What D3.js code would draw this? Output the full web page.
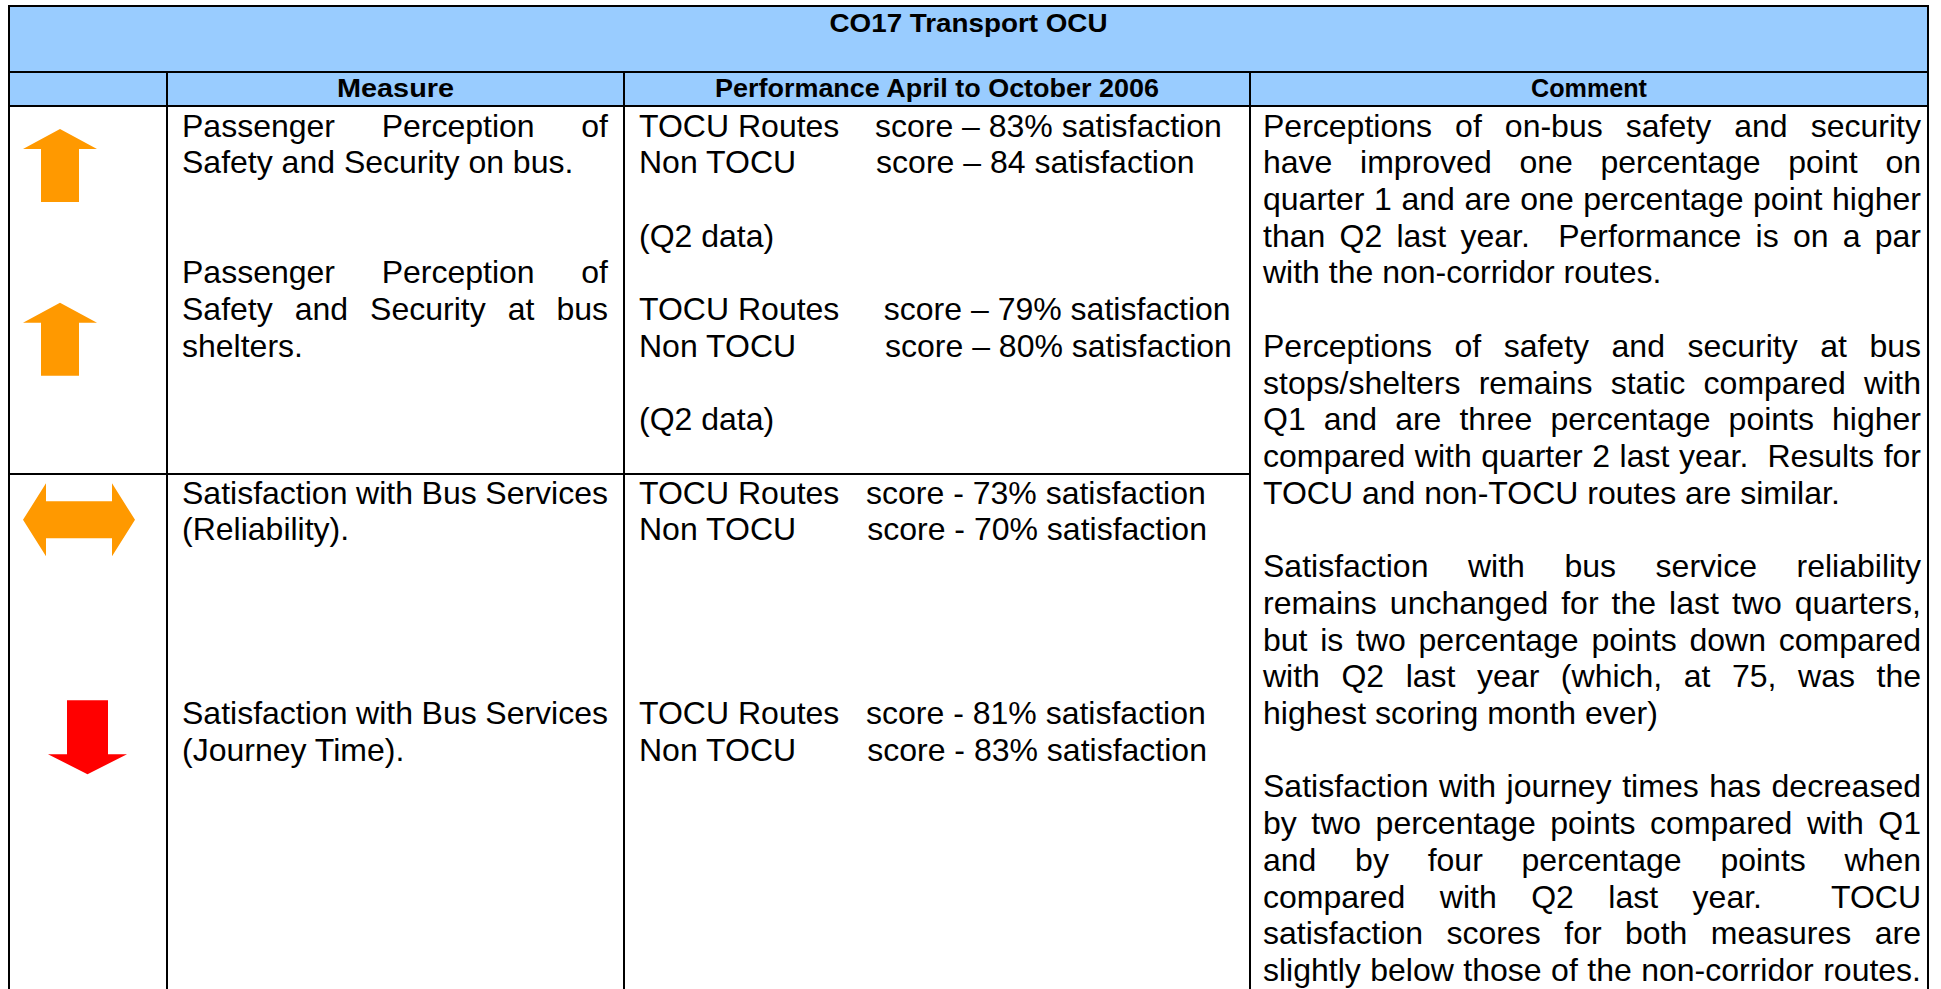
<!DOCTYPE html>
<html>
<head>
<meta charset="utf-8">
<script src="https://cdn.jsdelivr.net/npm/d3@7"></script>
<style>
  html, body { margin: 0; padding: 0; background: #fff; overflow: hidden; }
  svg { display: block; font-family: "Liberation Sans", Arial, sans-serif; }
  text { white-space: pre; }
</style>
</head>
<body>
<script>
// table content
var title = "CO17 Transport OCU";
var headers = ["", "Measure", "Performance April to October 2006", "Comment"];
var trends = ["up", "up", "same", "down"];
var measures = [
    ["Passenger Perception of", "Safety and Security on bus."],
    ["Passenger Perception of", "Safety and Security at bus", "shelters."],
    ["Satisfaction with Bus Services", "(Reliability)."],
    ["Satisfaction with Bus Services", "(Journey Time)."]
];
var routes = ["TOCU Routes", "Non TOCU"];
var tocuScores = ["83%", "79%", "73%", "81%"];
var nonTocuScores = ["84", "80%", "70%", "83%"];
var dashes = ["\u2013", "\u2013", "-", "-"];
var notes = ["(Q2 data)", "(Q2 data)", "", ""];
var comments = [
    ["Perceptions of on-bus safety and security",
     "have improved one percentage point on",
     "quarter 1 and are one percentage point higher",
     "than Q2 last year.  Performance is on a par",
     "with the non-corridor routes."],
    ["Perceptions of safety and security at bus",
     "stops/shelters remains static compared with",
     "Q1 and are three percentage points higher",
     "compared with quarter 2 last year.  Results for",
     "TOCU and non-TOCU routes are similar."],
    ["Satisfaction with bus service reliability",
     "remains unchanged for the last two quarters,",
     "but is two percentage points down compared",
     "with Q2 last year (which, at 75, was the",
     "highest scoring month ever)"],
    ["Satisfaction with journey times has decreased",
     "by two percentage points compared with Q1",
     "and by four percentage points when",
     "compared with Q2 last year.  TOCU",
     "satisfaction scores for both measures are",
     "slightly below those of the non-corridor routes."]
];

// layout
var W = 1941, H = 989;
var xLeft = 9, xRight = 1928, yTop = 6, titleBottom = 72, headBottom = 106, rowSplit = 474;
var cols = [xLeft, 167, 624, 1250, xRight];
var measureStart = [0, 4, 10, 16];
var perfStart = [0, 5, 10, 16];
var commentStart = [0, 6, 12, 18];
var gapSpaces = [[4, 9], [5, 10], [3, 8], [3, 8]];
var arrowLine = [0.79, 5.52, 10.44, 16.36];
var arrowX = [60, 60, 79, 87.5];
var blue = "#99CCFF", orange = "#FF9900", red = "#FF0000";
var bodySize = 32;

var svg = d3.select("body").append("svg")
    .attr("width", W)
    .attr("height", H);

// line number -> baseline
var y = d3.scaleLinear().domain([0, 1]).range([136.5, 136.5 + 36.72]);

// header backgrounds
svg.append("rect")
    .attr("x", xLeft).attr("y", yTop)
    .attr("width", xRight - xLeft).attr("height", headBottom - yTop)
    .attr("fill", blue);

// title and column headings
svg.append("text")
    .attr("x", (xLeft + xRight) / 2)
    .attr("y", 32)
    .attr("text-anchor", "middle")
    .attr("font-weight", "bold")
    .attr("font-size", 26)
    .attr("textLength", 278)
    .attr("lengthAdjust", "spacingAndGlyphs")
    .text(title);

var headLen = [0, 117, 444, 116];
svg.selectAll(".head")
    .data(headers)
    .enter()
    .filter(function(d) { return d !== ""; })
    .append("text")
    .attr("class", "head")
    .attr("x", function(d) { var i = headers.indexOf(d); return (cols[i] + cols[i + 1]) / 2; })
    .attr("y", 97)
    .attr("text-anchor", "middle")
    .attr("font-weight", "bold")
    .attr("font-size", function(d) { return d === "Comment" ? 25 : 26; })
    .attr("textLength", function(d) { return headLen[headers.indexOf(d)]; })
    .attr("lengthAdjust", "spacingAndGlyphs")
    .text(function(d) { return d; });

// hidden text for measuring words
var ruler = svg.append("text")
    .attr("font-size", bodySize)
    .attr("x", -1000).attr("y", -1000);

function wordWidth(w) {
    if (!w) return 0;
    ruler.text(w);
    return ruler.node().getComputedTextLength();
}

// draws one line, justified between x0 and x1 when asked
// (a line that nearly fills the cell is justified too, like the last one of the page)
function drawLine(str, line, x0, x1, justify, auto) {
    var t = svg.append("text")
        .attr("y", y(line))
        .attr("font-size", bodySize)
        .attr("fill", "#000");
    var words = str.split(" ");
    if (auto && wordWidth(str) > 0.97 * (x1 - x0)) justify = true;
    if (!justify || words.length < 2) {
        t.attr("x", x0).text(str);
        return;
    }
    var widths = words.map(wordWidth);
    var gap = (x1 - x0 - d3.sum(widths)) / (words.length - 1);
    var cx = x0;
    words.forEach(function(w, i) {
        if (w) t.append("tspan").attr("x", cx).text(w);
        cx += widths[i] + gap;
    });
}

function drawBlock(lines, start, x0, x1) {
    lines.forEach(function(str, i) {
        drawLine(str, start + i, x0, x1, i < lines.length - 1, true);
    });
}

// measure column
measures.forEach(function(m, i) {
    drawBlock(m, measureStart[i], cols[1] + 15, cols[2] - 16);
});

// performance column
function spaces(n) { return new Array(n + 1).join(" "); }
tocuScores.forEach(function(s, i) {
    var l1 = routes[0] + spaces(gapSpaces[i][0]) + "score " + dashes[i] + " " + s + " satisfaction";
    var l2 = routes[1] + spaces(gapSpaces[i][1]) + "score " + dashes[i] + " " + nonTocuScores[i] + " satisfaction";
    drawLine(l1, perfStart[i], cols[2] + 15, cols[3], false, false);
    drawLine(l2, perfStart[i] + 1, cols[2] + 15, cols[3], false, false);
    if (notes[i]) drawLine(notes[i], perfStart[i] + 3, cols[2] + 15, cols[3], false, false);
});

// comment column
comments.forEach(function(c, i) {
    drawBlock(c, commentStart[i], cols[3] + 13, xRight - 7);
});

// trend arrows
var arrowShapes = {
    up: [[0, -36.5], [37, -16.5], [19, -16.5], [19, 36.5], [-19, 36.5], [-19, -16.5], [-37, -16.5]],
    down: [[0, 37], [39.5, 17], [20.5, 17], [20.5, -37], [-20.5, -37], [-20.5, 17], [-39.5, 17]],
    same: [[-56, 0], [-33, -36.5], [-33, -18.5], [33, -18.5], [33, -36.5], [56, 0],
           [33, 36.5], [33, 18.5], [-33, 18.5], [-33, 36.5]]
};
var shape = d3.line().curve(d3.curveLinearClosed);

svg.selectAll(".arrow")
    .data(trends)
    .enter()
    .append("path")
    .attr("class", "arrow")
    .attr("transform", function(d, i) {
        return "translate(" + arrowX[i] + "," + y(arrowLine[i]) + ")";
    })
    .attr("d", function(d) { return shape(arrowShapes[d]); })
    .attr("fill", function(d) { return d === "down" ? red : orange; });

// grid lines
var rules = [
    [xLeft, yTop, xRight, yTop],
    [xLeft, titleBottom, xRight, titleBottom],
    [xLeft, headBottom, xRight, headBottom],
    [xLeft, rowSplit, cols[3], rowSplit],
    [xLeft, yTop, xLeft, H],
    [xRight, yTop, xRight, H],
    [cols[1], titleBottom, cols[1], H],
    [cols[2], titleBottom, cols[2], H],
    [cols[3], titleBottom, cols[3], H]
];
svg.selectAll(".rule")
    .data(rules)
    .enter()
    .append("line")
    .attr("class", "rule")
    .attr("x1", function(d) { return d[0]; })
    .attr("y1", function(d) { return d[1]; })
    .attr("x2", function(d) { return d[2]; })
    .attr("y2", function(d) { return d[3]; })
    .attr("stroke", "#000")
    .attr("stroke-width", 2)
    .attr("stroke-linecap", "square");

ruler.remove();
</script>
</body>
</html>
